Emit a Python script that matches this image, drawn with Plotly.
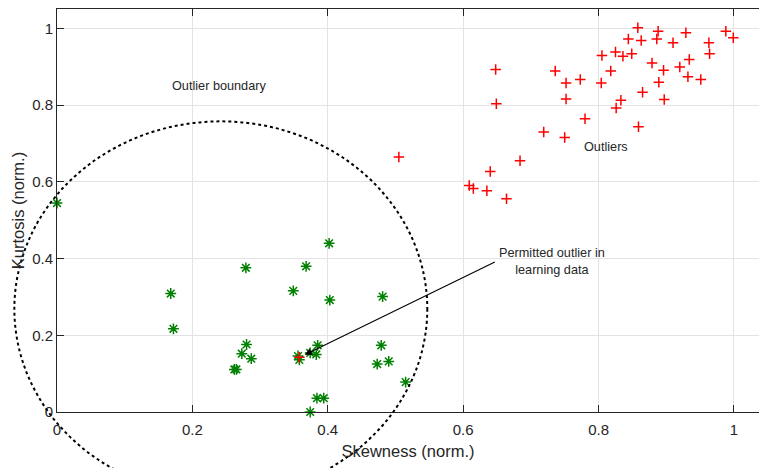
import plotly.graph_objects as go

# ---- data ----
normal_x = [0.000, 0.168, 0.172, 0.279, 0.280, 0.273, 0.287, 0.262, 0.265, 0.402, 0.368, 0.349, 0.403,
            0.481, 0.385, 0.374, 0.383, 0.358, 0.356, 0.479, 0.473, 0.490, 0.515, 0.384, 0.394, 0.374]
normal_y = [0.545, 0.309, 0.217, 0.376, 0.176, 0.152, 0.139, 0.111, 0.111, 0.440, 0.380, 0.316, 0.292,
            0.301, 0.174, 0.154, 0.150, 0.136, 0.146, 0.174, 0.125, 0.132, 0.078, 0.036, 0.036, 0.000]

outlier_x = [0.358, 0.505, 0.609, 0.615, 0.635, 0.664, 0.640, 0.684, 0.719, 0.750, 0.780, 0.648, 0.649,
             0.736, 0.752, 0.752, 0.773, 0.804, 0.805, 0.818, 0.825, 0.836, 0.849, 0.844, 0.858, 0.863,
             0.888, 0.886, 0.879, 0.896, 0.889, 0.897, 0.865, 0.833, 0.826, 0.859, 0.910, 0.929, 0.920,
             0.934, 0.932, 0.951, 0.963, 0.964, 0.988, 0.999]
outlier_y = [0.143, 0.665, 0.591, 0.583, 0.577, 0.556, 0.627, 0.655, 0.730, 0.716, 0.765, 0.893, 0.804,
             0.889, 0.858, 0.816, 0.867, 0.858, 0.930, 0.889, 0.939, 0.928, 0.934, 0.973, 1.002, 0.969,
             0.993, 0.973, 0.910, 0.891, 0.860, 0.815, 0.834, 0.813, 0.793, 0.744, 0.963, 0.989, 0.900,
             0.919, 0.874, 0.867, 0.963, 0.934, 0.993, 0.976]

# boundary ellipse (data units): centre and radii
boundary_center = (0.242, 0.269)
boundary_radius = (0.305, 0.489)

x_range = [0, 1.037]
y_range = [0, 1.051]
tick_vals = [0, 0.2, 0.4, 0.6, 0.8, 1]
tick_text = ["0", "0.2", "0.4", "0.6", "0.8", "1"]

axis_color = "#262626"
grid_color = "#e3e3e3"
font_family = "Liberation Sans, Arial, sans-serif"

fig = go.Figure()
fig.add_trace(go.Scatter(
    x=normal_x, y=normal_y, mode="markers",
    marker=dict(symbol="asterisk-open", size=9, color="#008000",
                line=dict(color="#008000", width=1.5)),
    showlegend=False, cliponaxis=False))
fig.add_trace(go.Scatter(
    x=outlier_x, y=outlier_y, mode="markers",
    marker=dict(symbol="cross-thin-open", size=7.5, color="#ff0000",
                line=dict(color="#ff0000", width=1.5)),
    showlegend=False, cliponaxis=False))

# boundary ellipse in paper coordinates so it is not clipped by the axes
def to_px(v):
    return (v - x_range[0]) / (x_range[1] - x_range[0])

def to_py(v):
    return (v - y_range[0]) / (y_range[1] - y_range[0])

cx, cy = boundary_center
rx, ry = boundary_radius
fig.add_shape(type="circle", xref="paper", yref="paper",
              x0=to_px(cx - rx), x1=to_px(cx + rx),
              y0=to_py(cy - ry), y1=to_py(cy + ry),
              line=dict(color="black", width=2, dash="dot"), layer="above")

text_font = dict(family=font_family, size=12.7, color=axis_color)

fig.add_annotation(x=0.366, y=0.149, ax=0.649, ay=0.393, xref="x", yref="y", axref="x", ayref="y",
                   text="", showarrow=True, arrowhead=2, arrowsize=1.3, arrowwidth=1.1, arrowcolor="black")
fig.add_annotation(x=0.731, y=0.392, xref="x", yref="y", showarrow=False,
                   text="Permitted outlier in<br>learning data", font=text_font, align="center")
fig.add_annotation(x=0.239, y=0.851, xref="x", yref="y", showarrow=False,
                   text="Outlier boundary", font=text_font)
fig.add_annotation(x=0.811, y=0.691, xref="x", yref="y", showarrow=False,
                   text="Outliers", font=text_font)

axis_common = dict(
    showgrid=True, gridcolor=grid_color, gridwidth=1, zeroline=False,
    showline=True, linecolor=axis_color, linewidth=1,
    ticks="inside", ticklen=7, tickcolor=axis_color, tickwidth=1,
    tickvals=tick_vals, ticktext=tick_text,
    tickfont=dict(family=font_family, size=15, color=axis_color),
)

fig.update_xaxes(range=x_range, mirror="allticks", ticklabelstandoff=4, **axis_common,
                 title=dict(text="Skewness (norm.)", standoff=8,
                            font=dict(family=font_family, size=16.5, color=axis_color)))
fig.update_yaxes(range=y_range, mirror=False, **axis_common,
                 title=dict(text="Kurtosis (norm.)", standoff=3,
                            font=dict(family=font_family, size=16.5, color=axis_color)))

fig.update_layout(width=759, height=468, margin=dict(l=57, r=0, t=9, b=56),
                  plot_bgcolor="white", paper_bgcolor="white")

fig.write_html("out.html")
